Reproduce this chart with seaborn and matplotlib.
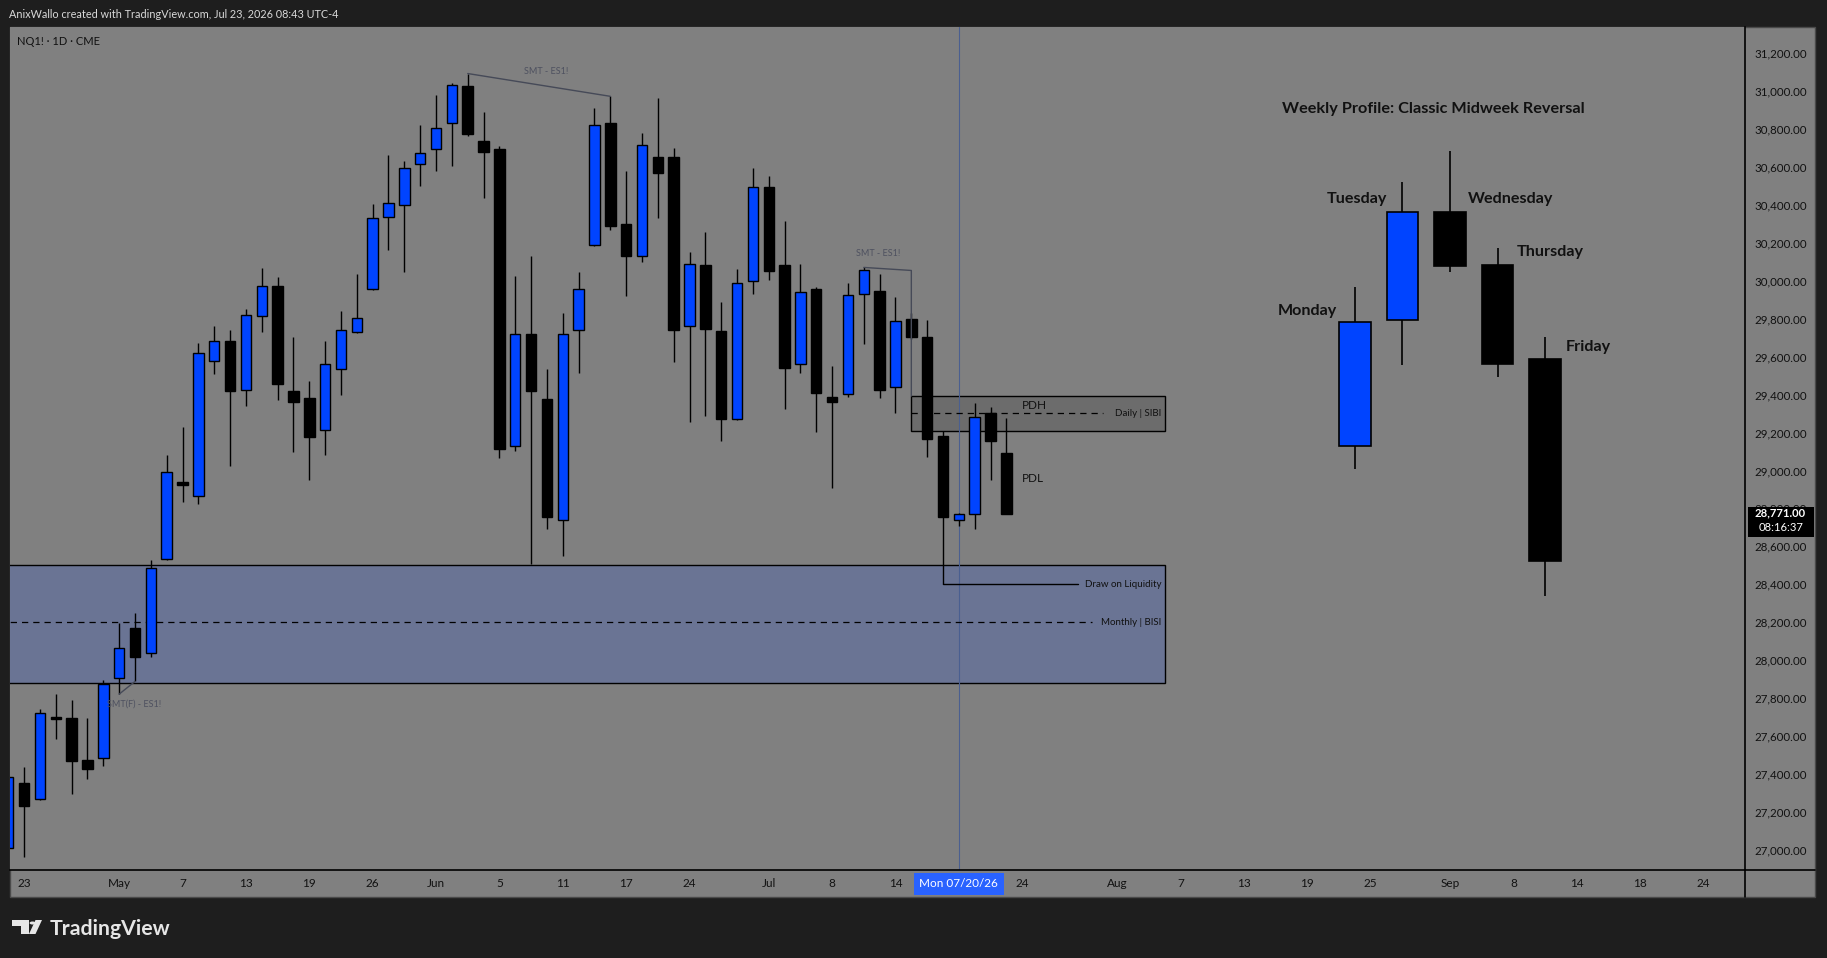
import numpy as np
import pandas as pd
import matplotlib
matplotlib.use("Agg")
import matplotlib.pyplot as plt
import matplotlib.transforms as mtransforms
from matplotlib.patches import Rectangle, Polygon, Circle
import seaborn as sns

# NQ1! daily candles, 2026-04-22 .. 2026-07-23 (trading days)
holidays = ["2026-05-25", "2026-06-19", "2026-07-03", "2026-09-07"]
opens = [27010, 27356, 27270, 27700, 27699, 27475, 27486, 27909, 28171, 28038,
         28533, 28940, 28866, 29575, 29680, 29425, 29815, 29969, 29417, 29380,
         29211, 29532, 29727, 29958, 30332, 30400, 30611, 30695, 30827, 31023,
         30734, 30695, 29127, 29716, 29374, 28738, 29737, 30185, 30832, 30300,
         30130, 30653, 30653, 29762, 30081, 29734, 29273, 29999, 30495, 30080,
         29559, 29953, 29385, 29401, 29927, 29943, 29439, 29795, 29702, 29182,
         28738, 28770, 29303, 29092]
highs = [27400, 27441, 27744, 27823, 27791, 27695, 27896, 28197, 28251, 28527,
         29081, 29228, 29670, 29759, 29741, 29850, 30066, 30016, 29703, 29471,
         29681, 29839, 30034, 30402, 30660, 30628, 30818, 30976, 31042, 31090,
         30886, 30707, 30023, 30129, 29534, 29829, 30044, 30907, 30970, 30576,
         30776, 30960, 30697, 30148, 30253, 29887, 30060, 30592, 30550, 30313,
         30086, 29965, 29550, 29985, 30069, 30032, 29911, 29830, 29792, 29210,
         28775, 29355, 29334, 29276]
lows = [26975, 26963, 27262, 27584, 27297, 27377, 27446, 27822, 27889, 28015,
        28527, 28836, 28825, 29510, 29024, 29341, 29729, 29371, 29099, 28947,
        29081, 29399, 29722, 29950, 30162, 30046, 30498, 30577, 30604, 30762,
        30435, 29068, 29104, 28505, 28694, 28552, 29515, 30180, 30267, 29920,
        30095, 30328, 29573, 29257, 29289, 29157, 29267, 29930, 30002, 29324,
        29515, 29204, 28906, 29389, 29667, 29383, 29301, 29690, 29073, 28400,
        28705, 28694, 28947, 28771]
closes = [27386, 27233, 27723, 27690, 27472, 27429, 27877, 28064, 28018, 28484,
          28993, 28925, 29618, 29680, 29416, 29817, 29969, 29454, 29359, 29178,
          29558, 29737, 29801, 30327, 30406, 30595, 30669, 30805, 31027, 30772,
          30678, 29111, 29716, 29420, 28754, 29716, 29958, 30821, 30288, 30130,
          30716, 30567, 29741, 30085, 29746, 29273, 29985, 30490, 30050, 29541,
          29937, 29409, 29362, 29922, 30058, 29422, 29785, 29701, 29167, 28757,
          28770, 29280, 29157, 28771]

# hand-drawn weekly profile candles
profile_days = ["Monday", "Tuesday", "Wednesday", "Thursday", "Friday"]
profile_dates = ["2026-08-24", "2026-08-27", "2026-09-01", "2026-09-04", "2026-09-10"]
profile_open = [29127, 29790, 30359, 30080, 29587]
profile_high = [29967, 30517, 30680, 30172, 29701]
profile_low = [29007, 29554, 30044, 29493, 28337]
profile_close = [29779, 30359, 30078, 29562, 28521]

# x tick labels
tick_dates = ["2026-04-23", "2026-05-01", "2026-05-07", "2026-05-13", "2026-05-19",
              "2026-05-26", "2026-06-01", "2026-06-05", "2026-06-11", "2026-06-17",
              "2026-06-24", "2026-07-01", "2026-07-08", "2026-07-14", "2026-07-20",
              "2026-07-24", "2026-08-03", "2026-08-07", "2026-08-13", "2026-08-19",
              "2026-08-25", "2026-09-01", "2026-09-08", "2026-09-14", "2026-09-18",
              "2026-09-24"]
tick_labels = ["23", "May", "7", "13", "19", "26", "Jun", "5", "11", "17", "24",
               "Jul", "8", "14", "Mon 07/20/26", "24", "Aug", "7", "13", "19", "25",
               "Sep", "8", "14", "18", "24"]

price_ticks = np.arange(27000, 31201, 200)
last_price = 28771.00
countdown = "08:16:37"

# zones / levels
monthly_bisi = (27880, 28500, 28200)
daily_sibi = (29210, 29392, 29301)
liquidity_level = 28400

sns.set_theme(style="white")
plt.rcParams["font.family"] = ["Lato", "DejaVu Sans"]

W, H = 1827, 958
BG = "#808080"
BLUE = "#0044ff"
TXT = "#111111"

cal = pd.bdate_range("2026-04-22", "2026-09-30", freq="C", holidays=holidays)
def pos(d):
    return float(cal.get_loc(pd.Timestamp(d)))

fig = plt.figure(figsize=(W / 100, H / 100), dpi=100, facecolor="#1e1e1e")

# chart panel (plot + scales)
fig.patches.append(Rectangle((10 / W, 1 - 897 / H), 1805 / W, 870 / H, transform=fig.transFigure,
                             facecolor=BG, edgecolor="#4a4a4a", lw=1, zorder=-5))
ax = fig.add_axes([10 / W, 1 - 870 / H, 1735 / W, 843 / H])
ax.set_facecolor(BG)

o = np.array(opens, float)
h = np.array(highs, float)
l = np.array(lows, float)
c = np.array(closes, float)
x = np.arange(len(o))
up = c >= o
colors = np.where(up, BLUE, "black")

# zones first
x_end = pos("2026-08-06")
ax.add_patch(Rectangle((-5, monthly_bisi[0]), x_end + 5, monthly_bisi[1] - monthly_bisi[0],
                       facecolor="#6a7494", edgecolor="black", lw=1, zorder=1))
ax.hlines(monthly_bisi[2], -5, x_end - 4.6, colors="black", lw=0.9, linestyles=(0, (5, 4)), zorder=1.2)
ax.text(x_end - 0.2, monthly_bisi[2], "Monthly | BISI", ha="right", va="center", fontsize=7, color=TXT, zorder=6)

x_sibi = pos("2026-07-15")
ax.add_patch(Rectangle((x_sibi, daily_sibi[0]), x_end - x_sibi, daily_sibi[1] - daily_sibi[0],
                       facecolor="#6c6c6c", edgecolor="black", lw=1, zorder=1))
ax.hlines(daily_sibi[2], x_sibi, x_end - 3.9, colors="black", lw=0.9, linestyles=(0, (5, 4)), zorder=1.2)
ax.text(x_end - 0.2, daily_sibi[2], "Daily | SIBI", ha="right", va="center", fontsize=7, color=TXT, zorder=6)

# crosshair
x_cross = pos("2026-07-20")
ax.axvline(x_cross, color="#4a5f90", lw=0.8, zorder=1.1)

# candles
ax.vlines(x, l, h, colors="black", lw=1, zorder=2)
ax.bar(x, np.maximum(np.abs(c - o), 8), bottom=np.minimum(o, c), width=0.66,
       color=colors, edgecolor="black", linewidth=1, zorder=3)

# weekly profile
px = np.array([pos(d) for d in profile_dates])
po, ph, pl, pc = map(np.array, (profile_open, profile_high, profile_low, profile_close))
pcol = np.where(pc >= po, BLUE, "black")
ax.vlines(px, pl, ph, colors="black", lw=1.2, zorder=2)
ax.bar(px, np.abs(pc - po), bottom=np.minimum(po, pc), width=2.0,
       color=pcol, edgecolor="black", linewidth=1.2, zorder=3)
label_off = [(-3.0, 60), (-2.9, 68), (3.85, 68), (3.35, 71), (2.7, 62)]
for i, day in enumerate(profile_days):
    ax.text(px[i] + label_off[i][0], max(po[i], pc[i]) + label_off[i][1], day,
            ha="center", va="center", fontsize=11.6, fontweight="bold", color=TXT, zorder=6)
ax.text(px[2] - 1.05, 30905, "Weekly Profile: Classic Midweek Reversal", ha="center", va="center",
        fontsize=11.7, fontweight="bold", color=TXT, zorder=6)

# SMT divergences
smt_col = "#464a58"
def smt(xa, ya, xb, yb, label, dx, dy):
    ax.plot([xa, xb], [ya, yb], color=smt_col, lw=1, zorder=4)
    ax.annotate(label, ((xa + xb) / 2, (ya + yb) / 2), xytext=(dx, dy), textcoords="offset points",
                ha="center", va="center", fontsize=6.5, color="#4e5160", zorder=6)

smt(pos("2026-06-03"), highs[29], pos("2026-06-16"), highs[38], "SMT - ES1!", 5, 10)
smt(pos("2026-05-01"), lows[7], pos("2026-05-04"), lows[8], "SMT(F) - ES1!", 5, -12)
xa, xb = pos("2026-07-10"), pos("2026-07-15")
ax.plot([xa, xb, xb], [highs[54], highs[54] - 16, daily_sibi[1]], color=smt_col, lw=1, zorder=4)
ax.annotate("SMT - ES1!", ((xa + xb) / 2 - 0.6, highs[54]), xytext=(0, 10), textcoords="offset points",
            ha="center", va="center", fontsize=6.5, color="#4e5160", zorder=6)

# PDH / PDL and draw on liquidity
ax.text(pos("2026-07-24") + 0.75, 29342, "PDH", ha="center", va="center", fontsize=8.5, color=TXT, zorder=6)
ax.text(pos("2026-07-24") + 0.65, 28956, "PDL", ha="center", va="center", fontsize=8.5, color=TXT, zorder=6)
x_liq = pos("2026-07-17")
sns.lineplot(x=[x_liq, x_end - 5.5], y=[liquidity_level, liquidity_level], color="black", lw=1, ax=ax, zorder=4)
ax.text(x_end - 0.2, liquidity_level, "Draw on Liquidity", ha="right", va="center", fontsize=7, color=TXT, zorder=6)

# axes / scales
ax.set_xlim(0.11, 109.62)
ax.set_ylim(26896, 31335)
ax.yaxis.tick_right()
ax.set_yticks(price_ticks)
ax.set_yticklabels([f"{v:,.2f}" for v in price_ticks], fontsize=8.3, color=TXT)
ax.set_xticks([pos(d) for d in tick_dates])
ax.set_xticklabels(tick_labels, fontsize=8.5, color=TXT)
ax.tick_params(axis="both", length=0)
ax.tick_params(axis="y", pad=6.5)
ax.tick_params(axis="x", pad=6)
for lbl in ax.get_xticklabels():
    if lbl.get_text().startswith("Mon"):
        lbl.set_color("white")
        lbl.set_bbox(dict(facecolor="#2962ff", edgecolor="none", boxstyle="square,pad=0.45"))
for side in ("left", "top"):
    ax.spines[side].set_visible(False)
for side in ("right", "bottom"):
    ax.spines[side].set_color("black")
    ax.spines[side].set_linewidth(1.2)
ax.set_xlabel("")
ax.set_ylabel("")
if ax.get_legend():
    ax.get_legend().remove()

# scale separators extending into the corner
fig.add_artist(plt.Line2D([1745 / W, 1745 / W], [1 - 870 / H, 1 - 897 / H], color="black", lw=1.2))
fig.add_artist(plt.Line2D([1745 / W, 1815 / W], [1 - 870 / H, 1 - 870 / H], color="black", lw=1.2))

# last price tag
blend = mtransforms.blended_transform_factory(ax.transAxes, ax.transData)
ax.add_patch(Rectangle((1.002, 28650), 0.0375, 160, transform=blend, facecolor="black",
                       edgecolor="none", clip_on=False, zorder=10))
ax.text(1.0205, last_price + 5, f"{last_price:,.2f}", transform=blend, ha="center", va="center",
        fontsize=8.1, fontweight="bold", color="white", clip_on=False, zorder=11)
ax.text(1.0205, 28697, countdown, transform=blend, ha="center", va="center",
        fontsize=8.1, color="white", clip_on=False, zorder=11)

ax.text(0.004, 0.983, "NQ1! · 1D · CME", transform=ax.transAxes, ha="left", va="center",
        fontsize=8, color=TXT)

# header and footer
fig.text(9 / W, 1 - 14 / H, "AnixWallo created with TradingView.com, Jul 23, 2026 08:43 UTC-4",
         ha="left", va="center", fontsize=7.8, color="#d9d9d9")
fig.text(50 / W, 1 - 929 / H, "TradingView", ha="left", va="center", fontsize=15.3,
         fontweight="bold", color="#e6e6e6")
def fp(xp, yp):
    return (xp / W, 1 - yp / H)
logo = "#e6e6e6"
fig.patches.append(Polygon([fp(12, 920), fp(29, 920), fp(29, 934), fp(21, 934), fp(21, 926), fp(12, 926)],
                           closed=True, transform=fig.transFigure, facecolor=logo, edgecolor="none"))
fig.patches.append(Circle(fp(32.5, 923), 2.9 / W, transform=fig.transFigure, facecolor=logo, edgecolor="none"))
fig.patches.append(Polygon([fp(29, 934), fp(35.5, 934), fp(42, 920), fp(35.5, 920)],
                           closed=True, transform=fig.transFigure, facecolor=logo, edgecolor="none"))

fig.savefig("out.png", dpi=100, facecolor=fig.get_facecolor())
